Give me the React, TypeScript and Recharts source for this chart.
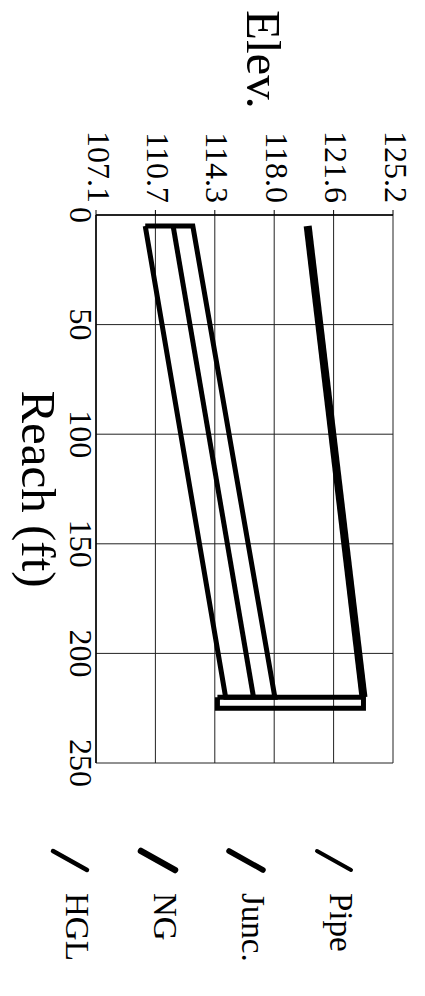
import { LineChart, Line, XAxis, YAxis, CartesianGrid, Legend } from 'recharts'

// profile values (reach in ft, elevation in ft)
const pipeReach = [5, 5, 220, 220, 5]
const pipeElev = [110.1, 113.0, 118.0, 115.0, 110.1]
const juncReach = [220, 220, 225, 225, 220]
const juncElev = [114.5, 123.4, 123.4, 114.5, 114.5]
const ngReach = [5, 220]
const ngElev = [120.0, 123.4]
const hglReach = [5, 220]
const hglElev = [111.8, 116.7]

const reachTicks = [0, 50, 100, 150, 200, 250]
const elevTicks = [107.1, 110.72, 114.34, 117.96, 121.58, 125.2]

const toRows = (reach: number[], elev: number[]) => reach.map((r, i) => ({ reach: r, elev: elev[i] }))

const SERIES = [
  { key: 'pipe', name: 'Pipe', data: toRows(pipeReach, pipeElev), width: 5, legendWidth: 4 },
  { key: 'junc', name: 'Junc.', data: toRows(juncReach, juncElev), width: 5, legendWidth: 5.5 },
  { key: 'ng', name: 'NG', data: toRows(ngReach, ngElev), width: 8, legendWidth: 6.5 },
  { key: 'hgl', name: 'HGL', data: toRows(hglReach, hglElev), width: 5, legendWidth: 4.5 },
]

const FONT = '"Liberation Serif", "Times New Roman", serif'

const renderLegend = () => (
  <svg width={140} height={380} style={{ overflow: 'visible' }}>
    {SERIES.map((s, i) => (
      <g key={s.key} transform={`translate(0, ${12 + i * 88})`}>
        <line x1={3} y1={36} x2={22} y2={2} stroke="#000" strokeWidth={s.legendWidth} strokeLinecap="round" />
        <text x={45} y={23} fontSize={33} fontFamily={FONT} fill="#000">
          {s.name}
        </text>
      </g>
    ))}
  </svg>
)

const ElevLabel = (props: any) => {
  const vb = props.viewBox || { x: 10, y: 32, width: 205, height: 297 }
  return (
    <text x={vb.x} y={vb.y + vb.height / 2 - 2} fontSize={49} fontFamily={FONT} fill="#000">
      Elev.
    </text>
  )
}

const ReachLabel = (props: any) => {
  const vb = props.viewBox || { x: 215, y: 329, width: 548, height: 96 }
  return (
    <text x={vb.x + vb.width / 2} y={vb.y + 74} textAnchor="middle" fontSize={49} fontFamily={FONT} fill="#000">
      Reach (ft)
    </text>
  )
}

const App = () => {
  const tick = { fontSize: 32, fontFamily: FONT, fill: '#000' }
  return (
    <div style={{ position: 'absolute', left: 0, top: 0, width: 425, height: 996, overflow: 'hidden', background: '#fff' }}>
      {/* the figure is printed turned a quarter clockwise */}
      <div
        style={{
          position: 'absolute',
          left: 0,
          top: 0,
          width: 996,
          height: 425,
          transformOrigin: '0 0',
          transform: 'translate(425px, 0) rotate(90deg)',
        }}
      >
        <LineChart width={996} height={425} margin={{ top: 32, right: 233, bottom: 0, left: 10 }}>
          <CartesianGrid stroke="#222" strokeWidth={1} />
          <XAxis
            type="number"
            dataKey="reach"
            domain={[0, 250]}
            ticks={reachTicks}
            interval={0}
            height={96}
            tickSize={0}
            tickMargin={3}
            tickLine={false}
            axisLine={{ stroke: '#000', strokeWidth: 1.5 }}
            tick={tick}
            label={{ content: ReachLabel }}
          />
          <YAxis
            type="number"
            dataKey="elev"
            domain={[107.1, 125.2]}
            ticks={elevTicks}
            interval={0}
            width={205}
            tickSize={5}
            tickMargin={7}
            tickLine={{ stroke: '#000' }}
            axisLine={{ stroke: '#000', strokeWidth: 1.5 }}
            tick={{ ...tick, dy: -3 }}
            tickFormatter={(v: number) => v.toFixed(1)}
            label={{ content: ElevLabel }}
          />
          <Legend
            layout="vertical"
            align="center"
            verticalAlign="middle"
            content={renderLegend}
            wrapperStyle={{ left: 848, top: 60, width: 140, height: 380 }}
          />
          {SERIES.map((s) => (
            <Line
              key={s.key}
              data={s.data}
              dataKey="elev"
              name={s.name}
              type="linear"
              stroke="#000"
              strokeWidth={s.width}
              dot={false}
              activeDot={false}
              isAnimationActive={false}
            />
          ))}
        </LineChart>
      </div>
    </div>
  )
}

export default App
